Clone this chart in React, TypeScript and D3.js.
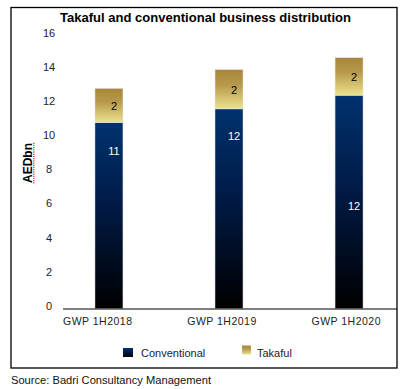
import React from "react";
import * as d3 from "d3";

const categories = ["GWP 1H2018", "GWP 1H2019", "GWP 1H2020"];
const conventional = [10.9, 11.7, 12.5];
const takaful = [2.0, 2.3, 2.2];
const conventionalLabels = ["11", "12", "12"];
const takafulLabels = ["2", "2", "2"];
// where the conventional labels sit (AED bn)
const conventionalLabelAt = [9.2, 10.1, 6.0];
const yTicks = [0, 2, 4, 6, 8, 10, 12, 14, 16];
const seriesNames = ["Conventional", "Takaful"];

const width = 408;
const height = 389;

export default function App() {
  const y = d3.scaleLinear().domain([0, 16]).range([308.5, 35.5]);
  const x = d3
    .scaleBand()
    .domain(categories)
    .range([49, 409])
    .paddingInner(0.767)
    .paddingOuter(0.383);
  const xLabel = d3.scalePoint().domain(categories).range([97.5, 346]);
  const bw = x.bandwidth();
  const font = "'Liberation Sans', Arial, sans-serif";

  return (
    <svg
      width={width}
      height={height}
      style={{ position: "absolute", left: 0, top: 0 }}
      fontFamily={font}
    >
      <defs>
        <linearGradient id="gConv" x1="0" y1="0" x2="0" y2="1">
          <stop offset="0%" stopColor="#00326e" />
          <stop offset="45%" stopColor="#001a45" />
          <stop offset="100%" stopColor="#000000" />
        </linearGradient>
        <linearGradient id="gTak" x1="0" y1="0" x2="0" y2="1">
          <stop offset="0%" stopColor="#a8853a" />
          <stop offset="40%" stopColor="#b89a4c" />
          <stop offset="100%" stopColor="#ece38f" />
        </linearGradient>
      </defs>
      <rect x={11} y={7.5} width={386} height={360.5} fill="#fff" stroke="#000" strokeWidth={1.3} />
      <text
        x={205.5}
        y={21.5}
        textAnchor="middle"
        fontWeight="bold"
        fontSize={12.5}
        textLength={291}
        lengthAdjust="spacingAndGlyphs"
      >
        Takaful and conventional business distribution
      </text>

      {yTicks.map((t) => (
        <text key={t} x={49} y={y(t) - 2.5} dy="0.35em" textAnchor="middle" fontSize={11} fill="#222">
          {t}
        </text>
      ))}

      <g transform="translate(32,163) rotate(-90)">
        <text textAnchor="middle" fontWeight="bold" fontSize={12}>
          AEDbn
        </text>
        <line x1={-20.5} x2={20.5} y1={1.8} y2={1.8} stroke="#e02020" strokeWidth={1.2} strokeDasharray="1.2,1" />
      </g>

      {categories.map((c, i) => {
        const x0 = x(c) as number;
        const yc = y(conventional[i]);
        const yt = y(conventional[i] + takaful[i]);
        return (
          <g key={c}>
            <rect x={x0} y={yc} width={bw} height={y(0) - yc} fill="url(#gConv)" stroke="#d6d6d6" strokeWidth={0.5} />
            <rect x={x0} y={yt} width={bw} height={yc - yt} fill="url(#gTak)" stroke="#e4e4e4" strokeWidth={0.5} />
            <text x={x0 + bw / 2 + 5} y={y(conventionalLabelAt[i])} dy="0.35em" textAnchor="middle" fontSize={11} fill="#fff">
              {conventionalLabels[i]}
            </text>
            <text x={x0 + bw / 2 + 5} y={(yc + yt) / 2 + 0.5} dy="0.35em" textAnchor="middle" fontSize={11} fill="#000">
              {takafulLabels[i]}
            </text>
          </g>
        );
      })}

      <line x1={63} x2={397} y1={309} y2={309} stroke="#000" strokeWidth={1} />

      {categories.map((c) => (
        <text
          key={c}
          x={xLabel(c)}
          y={321}
          dy="0.35em"
          textAnchor="middle"
          fontSize={10.5}
          textLength={69}
          lengthAdjust="spacing"
          fill="#222"
        >
          {c}
        </text>
      ))}

      <g>
        <rect x={123} y={348} width={10} height={9} fill="url(#gConv)" />
        <text x={141} y={353} dy="0.35em" fontSize={11} fill="#222">
          {seriesNames[0]}
        </text>
        <rect x={242} y={345.5} width={9} height={9} fill="url(#gTak)" />
        <text x={257} y={353} dy="0.35em" fontSize={11} fill="#222">
          {seriesNames[1]}
        </text>
      </g>

      <text x={11} y={380} dy="0.35em" fontSize={11} textLength={200} lengthAdjust="spacingAndGlyphs" fill="#111">
        Source: Badri Consultancy Management
      </text>
    </svg>
  );
}
